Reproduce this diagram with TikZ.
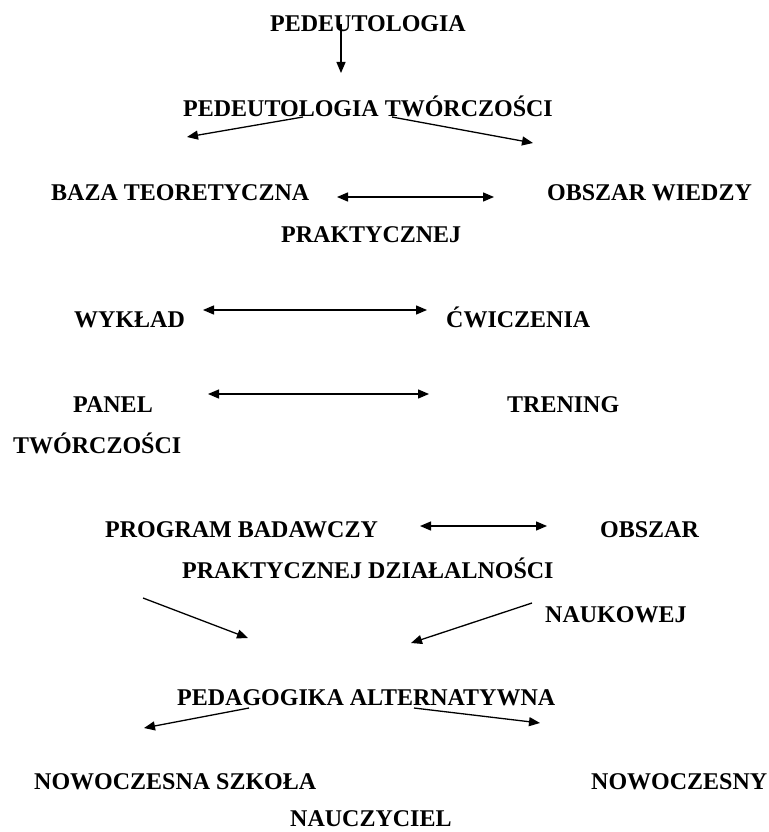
\documentclass[tikz,border=0pt]{standalone}
\usepackage{fontspec}
\setmainfont{Liberation Serif}
\usetikzlibrary{arrows.meta, positioning}

\begin{document}
\begin{tikzpicture}[x=1pt, y=-1pt]
    % Define styles
    \tikzstyle{term} = [anchor=base west, inner sep=0pt,
                        font=\fontsize{24}{28}\selectfont\bfseries]
    \tikzstyle{arrow} = [line width=1.3pt, -{Triangle[length=11pt, width=9pt]}]
    \tikzstyle{both} = [line width=1.3pt,
                        {Triangle[length=11pt, width=9pt]}-{Triangle[length=11pt, width=9pt]}]

    \useasboundingbox (0,0) rectangle (768,832);

    % Create nodes
    \node[term] (ped) at (270,32) {PEDEUTOLOGIA};
    \node[term] (pedtw) at (183,117) {PEDEUTOLOGIA TWÓRCZOŚCI};

    \node[term] (baza) at (51,200) {BAZA TEORETYCZNA};
    \node[term] (wiedza) at (547,200) {OBSZAR WIEDZY};
    \node[term] (praktyczna) at (281,242) {PRAKTYCZNEJ};

    \node[term] (wyklad) at (74,327) {WYKŁAD};
    \node[term] (cwiczenia) at (446,327) {ĆWICZENIA};

    \node[term] (panel) at (73,412) {PANEL};
    \node[term] (trening) at (507,412) {TRENING};
    \node[term] (panelb) at (13,453) {TWÓRCZOŚCI};

    \node[term] (program) at (105,537) {PROGRAM BADAWCZY};
    \node[term] (obszar) at (600,537) {OBSZAR};
    \node[term] (dzialal) at (182,578) {PRAKTYCZNEJ DZIAŁALNOŚCI};
    \node[term] (naukowa) at (545,622) {NAUKOWEJ};

    \node[term] (alter) at (177,705) {PEDAGOGIKA ALTERNATYWNA};
    \node[term] (szkola) at (34,789) {NOWOCZESNA SZKOŁA};
    \node[term] (nowy) at (591,789) {NOWOCZESNY};
    \node[term] (nauczyciel) at (290,826) {NAUCZYCIEL};

    % Arrow ends
    \coordinate (pedA) at (341,24);   \coordinate (pedB) at (341,73);
    \coordinate (twL0) at (303,117);  \coordinate (twL1) at (187,137);
    \coordinate (twR0) at (392,117);  \coordinate (twR1) at (533,143);
    \coordinate (bazaR) at (337,197); \coordinate (wiedzaL) at (494,197);
    \coordinate (wykR) at (203,310);  \coordinate (cwiL) at (427,310);
    \coordinate (panR) at (208,394);  \coordinate (treL) at (429,394);
    \coordinate (progR) at (420,526); \coordinate (obszL) at (547,526);
    \coordinate (dzL0) at (143,598);  \coordinate (dzL1) at (248,638);
    \coordinate (naR0) at (532,603);  \coordinate (naR1) at (411,643);
    \coordinate (alL0) at (249,708);  \coordinate (alL1) at (144,728);
    \coordinate (alR0) at (414,708);  \coordinate (alR1) at (540,723);

    % Draw arrows
    \draw[arrow] (pedA) -- (pedB);
    \draw[arrow] (twL0) -- (twL1);
    \draw[arrow] (twR0) -- (twR1);
    \draw[both] (bazaR) -- (wiedzaL);
    \draw[both] (wykR) -- (cwiL);
    \draw[both] (panR) -- (treL);
    \draw[both] (progR) -- (obszL);
    \draw[arrow] (dzL0) -- (dzL1);
    \draw[arrow] (naR0) -- (naR1);
    \draw[arrow] (alL0) -- (alL1);
    \draw[arrow] (alR0) -- (alR1);
\end{tikzpicture}
\end{document}
